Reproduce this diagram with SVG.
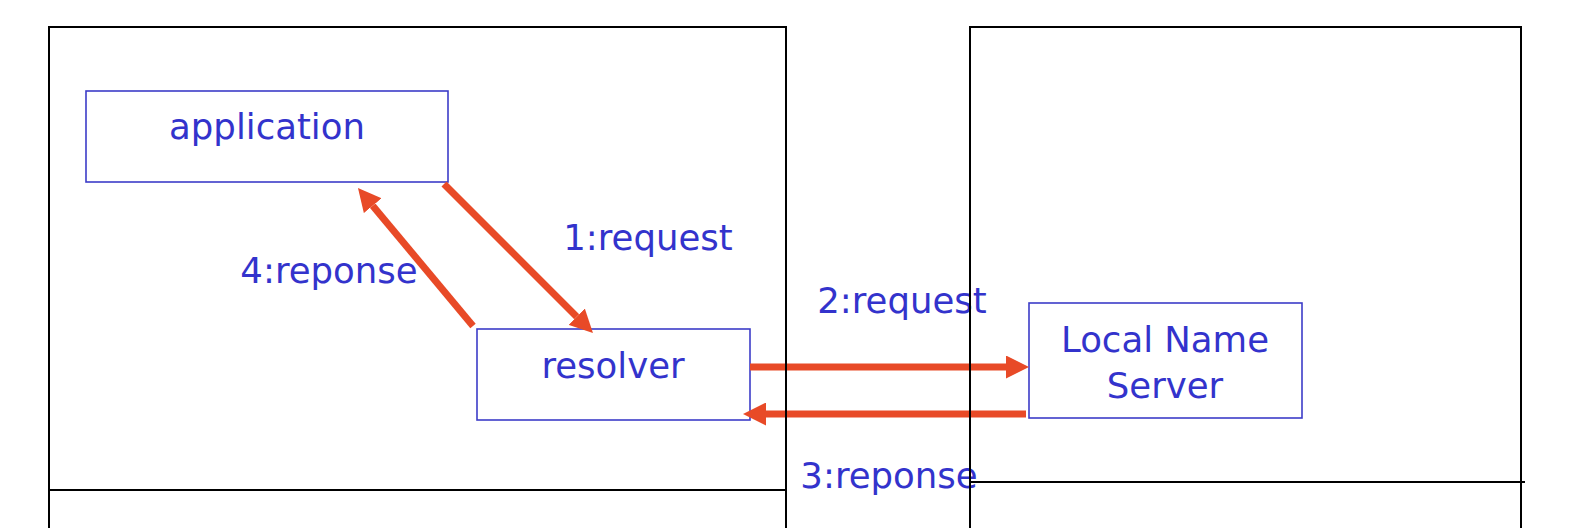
<svg xmlns="http://www.w3.org/2000/svg" width="1572" height="528" viewBox="0 0 1572 528">
  <style>
    .node rect { fill: #ffffff; stroke: #3c3cc8; stroke-width: 1.6; }
    .label { font-family: "DejaVu Sans", "Liberation Sans", sans-serif; font-size: 35.5px; fill: #3333cc; text-anchor: middle; }
    .flow { fill: none; stroke: #e84a27; stroke-width: 7; }
    .frame { fill: none; stroke: #000000; stroke-width: 2; }
  </style>
  <defs>
    <marker id="head" markerUnits="userSpaceOnUse" viewBox="0 0 23 23" refX="0" refY="11.5" markerWidth="23" markerHeight="23" orient="auto">
      <path d="M0,0 L23,11.5 L0,23 Z" fill="#e84a27"/>
    </marker>
  </defs>

  <rect width="1572" height="528" fill="#ffffff"/>

  <!-- nodes -->
  <g id="application" class="node">
    <rect x="86" y="91" width="362" height="91"/>
    <text class="label" x="267" y="139">application</text>
  </g>
  <g id="resolver" class="node">
    <rect x="477" y="329" width="273" height="91"/>
    <text class="label" x="613" y="378">resolver</text>
  </g>
  <g id="local-name-server" class="node">
    <rect x="1029" y="303" width="273" height="115"/>
    <text class="label" x="1165" y="352">Local Name</text>
    <text class="label" x="1165" y="398">Server</text>
  </g>

  <!-- connectors -->
  <g id="connectors">
    <path class="flow" d="M444,184 L576.7,316.7" marker-end="url(#head)"/>
    <path class="flow" d="M750,367 L1006,367" marker-end="url(#head)"/>
    <path class="flow" d="M1026,414 L766,414" marker-end="url(#head)"/>
    <path class="flow" d="M473,326 L372.7,205.7" marker-end="url(#head)"/>
    <text class="label" x="648" y="250">1:request</text>
    <text class="label" x="902" y="313">2:request</text>
    <text class="label" x="889" y="488">3:reponse</text>
    <text class="label" x="329" y="283">4:reponse</text>
  </g>

  <!-- host frames -->
  <g id="frames">
    <rect class="frame" x="49" y="27" width="737" height="463"/>
    <path class="frame" d="M49,490 L49,528 M786,490 L786,528"/>
    <path class="frame" stroke-width="1.6" d="M970,528 L970,27 L1521,27 L1521,528 M970,482 L1525,482"/>
  </g>
</svg>
